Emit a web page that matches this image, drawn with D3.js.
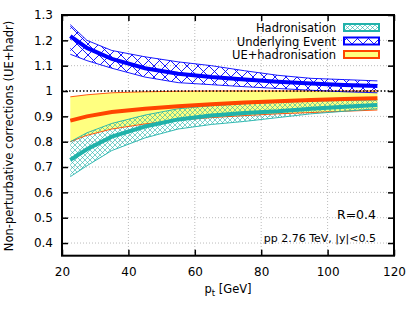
<!DOCTYPE html>
<html><head><meta charset="utf-8">
<script src="https://cdn.jsdelivr.net/npm/d3@7"></script>
<style>
body{margin:0;background:#fff;}
text{font-family:"DejaVu Sans",sans-serif;}
</style></head>
<body><svg id="c" width="415" height="312"></svg>
<script>
const pt = [22.5, 27.5, 35, 45, 55, 65, 75, 85, 95, 105, 115];
const ueCenter = [1.217, 1.17, 1.127, 1.09, 1.068, 1.055, 1.045, 1.037, 1.03, 1.024, 1.02];
const ueUpper  = [1.262, 1.2, 1.16, 1.135, 1.115, 1.1, 1.08, 1.062, 1.05, 1.045, 1.04];
const ueLower  = [1.145, 1.12, 1.09, 1.055, 1.033, 1.025, 1.017, 1.01, 1.003, 0.997, 0.993];
const hadCenter = [0.728, 0.77, 0.82, 0.86, 0.888, 0.903, 0.913, 0.92, 0.93, 0.938, 0.945];
const hadUpper  = [0.8, 0.835, 0.872, 0.905, 0.93, 0.942, 0.95, 0.955, 0.96, 0.963, 0.965];
const hadLower  = [0.662, 0.705, 0.765, 0.815, 0.85, 0.868, 0.88, 0.895, 0.91, 0.92, 0.93];
const totCenter = [0.883, 0.9, 0.917, 0.93, 0.94, 0.948, 0.955, 0.96, 0.965, 0.968, 0.971];
const totUpper  = [0.977, 0.985, 0.993, 0.997, 0.999, 1.0, 1.0, 1.0, 1.0, 1.0, 1.0];
const totLower  = [0.8, 0.825, 0.85, 0.87, 0.885, 0.895, 0.903, 0.91, 0.915, 0.92, 0.925];
const xTicks = [20, 40, 60, 80, 100, 120];
const yTicks = [0.4, 0.5, 0.6, 0.7, 0.8, 0.9, 1.0, 1.1, 1.2, 1.3];
const legendLabels = ["Hadronisation", "Underlying Event", "UE+hadronisation"];

const teal = "#20b2aa", blue = "#0000ff", orange = "#ff4500", yellow = "#ffff80";
const svg = d3.select("#c");
const L = 62, R = 394, T = 15, B = 255.7;
const x = d3.scaleLinear().domain([20, 120]).range([L, R]);
const y = d3.scaleLinear().domain([0.35, 1.3]).range([B, T]);

const defs = svg.append("defs");
function cross(id, size, color, w) {
  const p = defs.append("pattern").attr("id", id).attr("patternUnits", "userSpaceOnUse")
    .attr("width", size).attr("height", size);
  p.append("path").attr("d", `M0,0L${size},${size}M${size},0L0,${size}`)
    .attr("stroke", color).attr("stroke-width", w).attr("fill", "none");
}
cross("hTeal", 5, teal, 0.6);
cross("hBlue", 11, blue, 0.9);
defs.append("clipPath").attr("id", "clip").append("rect")
  .attr("x", L).attr("y", T).attr("width", R - L).attr("height", B - T);

// grid
const g = svg.append("g");
xTicks.filter(v => v > 20 && v < 120).forEach(v => {
  g.append("line").attr("x1", x(v)).attr("x2", x(v)).attr("y1", T).attr("y2", B)
    .attr("stroke", "#aaa").attr("stroke-width", 0.8).attr("stroke-dasharray", "1,2");
});
yTicks.filter(v => v < 1.3 && Math.abs(v - 1) > 1e-9).forEach(v => {
  g.append("line").attr("x1", L).attr("x2", R).attr("y1", y(v)).attr("y2", y(v))
    .attr("stroke", "#aaa").attr("stroke-width", 0.8).attr("stroke-dasharray", "1,2");
});

const idx = d3.range(pt.length);
const area = (up, lo) => d3.area().x(i => x(pt[i])).y0(i => y(lo[i])).y1(i => y(up[i]));
const line = arr => d3.line().x(i => x(pt[i])).y(i => y(arr[i]));
const plot = svg.append("g").attr("clip-path", "url(#clip)");

plot.append("path").attr("d", area(totUpper, totLower)(idx)).attr("fill", yellow);
plot.append("path").attr("d", area(hadUpper, hadLower)(idx)).attr("fill", "url(#hTeal)");
plot.append("path").attr("d", area(ueUpper, ueLower)(idx)).attr("fill", "url(#hBlue)");

svg.append("line").attr("x1", L).attr("x2", R).attr("y1", y(1)).attr("y2", y(1))
  .attr("stroke", "#000").attr("stroke-width", 1.3).attr("stroke-dasharray", "1.5,2");

[[totUpper, orange], [totLower, orange], [hadUpper, teal], [hadLower, teal], [ueUpper, blue], [ueLower, blue]]
  .forEach(([a, c]) => plot.append("path").attr("d", line(a)(idx)).attr("fill", "none").attr("stroke", c).attr("stroke-width", 0.9));
[[totCenter, orange], [hadCenter, teal], [ueCenter, blue]]
  .forEach(([a, c]) => plot.append("path").attr("d", line(a)(idx)).attr("fill", "none").attr("stroke", c).attr("stroke-width", 4));

svg.append("rect").attr("x", L).attr("y", T).attr("width", R - L).attr("height", B - T)
  .attr("fill", "none").attr("stroke", "#000").attr("stroke-width", 2);

const ax = svg.append("g");
const xb = d3.axisBottom(x).tickValues(xTicks).tickSize(-6).tickPadding(12).tickFormat(d3.format("d"));
ax.append("g").attr("transform", `translate(0,${B})`).call(xb).call(s => { s.select(".domain").remove(); s.selectAll("text").attr("font-size", 12).attr("fill", "#000"); s.selectAll("line").attr("stroke-width", 1.5); });
const xt = d3.axisTop(x).tickValues(xTicks).tickSize(-6).tickFormat("");
ax.append("g").attr("transform", `translate(0,${T})`).call(xt).call(s => { s.select(".domain").remove(); s.selectAll("line").attr("stroke-width", 1.5); });
const yl = d3.axisLeft(y).tickValues(yTicks).tickSize(-6).tickPadding(9).tickFormat(d => d === 1 ? "1" : d3.format(".1f")(d));
ax.append("g").attr("transform", `translate(${L},0)`).call(yl).call(s => { s.select(".domain").remove(); s.selectAll("text").attr("font-size", 12).attr("fill", "#000"); s.selectAll("line").attr("stroke-width", 1.5); });
const yr = d3.axisRight(y).tickValues(yTicks).tickSize(-6).tickFormat("");
ax.append("g").attr("transform", `translate(${R},0)`).call(yr).call(s => { s.select(".domain").remove(); s.selectAll("line").attr("stroke-width", 1.5); });

svg.append("text").attr("transform", "translate(13,136) rotate(-90)").attr("text-anchor", "middle")
  .attr("font-size", 11.5).text("Non-perturbative corrections (UE+hadr)");
const xl = svg.append("text").attr("x", 228).attr("y", 293).attr("text-anchor", "middle").attr("font-size", 11.5);
xl.append("tspan").text("p");
xl.append("tspan").attr("font-size", 8.5).attr("dy", 3).text("t");
xl.append("tspan").attr("dy", -3).text(" [GeV]");

svg.append("text").attr("x", 376).attr("y", 219).attr("text-anchor", "end").attr("font-size", 12.5).text("R=0.4");
svg.append("text").attr("x", 376).attr("y", 242).attr("text-anchor", "end").attr("font-size", 11).text("pp 2.76 TeV, |y|<0.5");

const ly = [27.5, 41, 54.5];
const lfill = ["url(#hTeal)", "url(#hBlue)", yellow];
const lstroke = [teal, blue, orange];
legendLabels.forEach((t, i) => {
  svg.append("text").attr("x", 336).attr("y", ly[i] + 4.5).attr("text-anchor", "end").attr("font-size", 11.5).text(t);
  svg.append("rect").attr("x", 344).attr("y", ly[i] - 3.5).attr("width", 35).attr("height", 7)
    .attr("fill", "#fff").attr("stroke", "none");
  svg.append("rect").attr("x", 344).attr("y", ly[i] - 3.5).attr("width", 35).attr("height", 7)
    .attr("fill", lfill[i]).attr("stroke", lstroke[i]).attr("stroke-width", 2);
});
</script></body></html>
